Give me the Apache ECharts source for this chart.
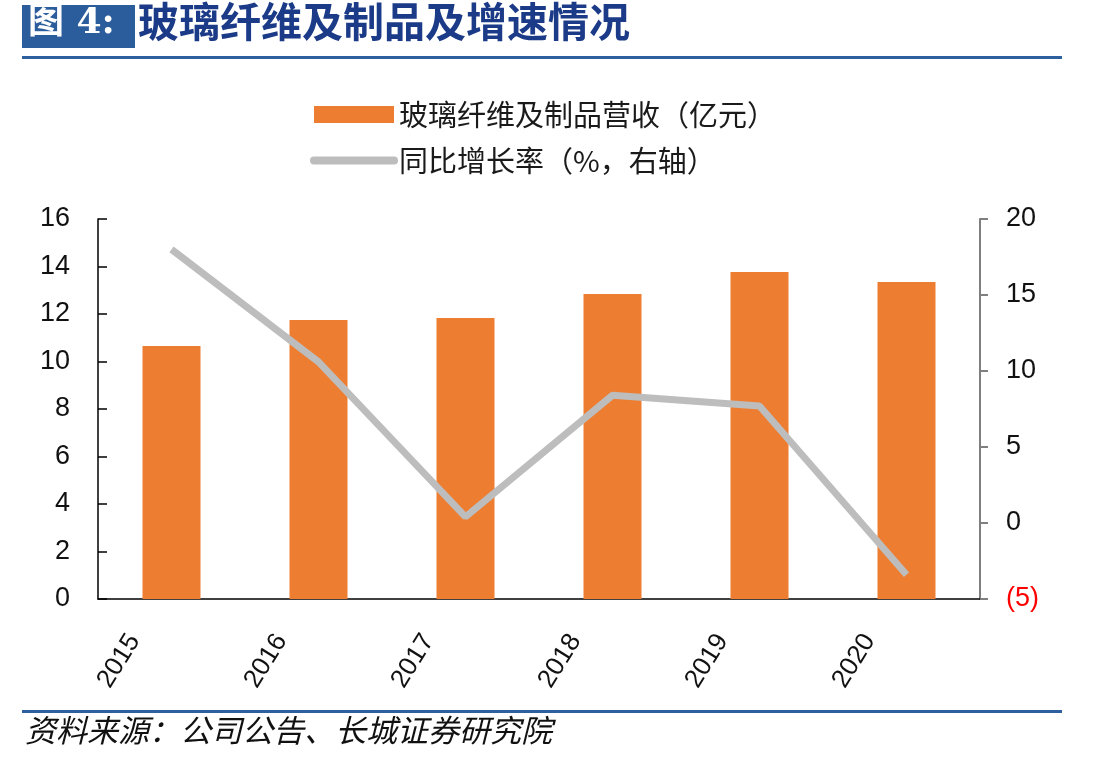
<!DOCTYPE html>
<html>
<head>
<meta charset="utf-8">
<script src="https://cdn.jsdelivr.net/npm/echarts@6/dist/echarts.min.js"></script>
<style>
    html, body { margin: 0; padding: 0; background: #ffffff; }
    #chart { width: 1105px; height: 764px; }
</style>
</head>
<body>
<div id="chart"></div>
<script>
// 年份
const years = ['2015', '2016', '2017', '2018', '2019', '2020']
// 玻璃纤维及制品营收（亿元）
const revenue = [10.65, 11.75, 11.83, 12.84, 13.77, 13.35]
// 同比增长率（%）
const growth = [18.0, 10.6, 0.4, 8.4, 7.7, -3.4]
// 左轴刻度
const leftTicks = [0, 2, 4, 6, 8, 10, 12, 14, 16]
// 右轴刻度
const rightTicks = [-5, 0, 5, 10, 15, 20]

const barName = '玻璃纤维及制品营收（亿元）'
const lineName = '同比增长率（%，右轴）'

const numFont = '"Liberation Sans", Arial, sans-serif'
const cjkFont = '"Noto Sans CJK SC", sans-serif'

const chart = echarts.init(document.getElementById('chart'))

const option = {
    backgroundColor: '#ffffff',
    animation: false,
    grid: {
        left: 98,
        right: 125,
        top: 219,
        bottom: 165
    },
    legend: {
        orient: 'vertical',
        left: 305,
        top: 95,
        itemWidth: 80,
        itemHeight: 17,
        itemGap: 17,
        textStyle: {
            fontFamily: cjkFont,
            fontSize: 29,
            color: '#1a1a1a'
        },
        data: [
            { name: barName, icon: 'rect' },
            // 图例里只要粗线，不要圆点
            { name: lineName, itemStyle: { opacity: 0 }, lineStyle: { width: 8, cap: 'round', color: '#bdbdbd' } }
        ]
    },
    // 标题、分隔线、资料来源
    graphic: [
        { type: 'rect', shape: { x: 22, y: 5, width: 113, height: 43 }, style: { fill: '#2b5c9c' } },
        { type: 'text', left: 28, top: 6, style: { text: '图 4:', fill: '#ffffff', font: 'bold 36px "DejaVu Serif", "Noto Sans CJK SC", serif' } },
        { type: 'text', left: 138, top: 1, style: { text: '玻璃纤维及制品及增速情况', fill: '#1b3a87', font: 'bold 41px "Noto Sans CJK SC", sans-serif' } },
        { type: 'rect', shape: { x: 22, y: 56, width: 1040, height: 3 }, style: { fill: '#2e5f9f' } },
        { type: 'rect', shape: { x: 22, y: 710, width: 1040, height: 3 }, style: { fill: '#2e5f9f' } },
        { type: 'text', left: 25, top: 715, style: { text: '资料来源：公司公告、长城证券研究院', fill: '#111111', font: 'italic 31px "Noto Sans CJK SC", sans-serif' } }
    ],
    xAxis: {
        type: 'category',
        data: years,
        axisLine: { lineStyle: { color: '#000000', width: 1.5 } },
        axisTick: { show: false },
        axisLabel: {
            rotate: 58,
            margin: -22,
            padding: [0, 70, 0, 0],
            fontFamily: numFont,
            fontSize: 26,
            color: '#111111'
        }
    },
    yAxis: [{
        type: 'value',
        min: leftTicks[0],
        max: leftTicks[leftTicks.length - 1],
        interval: 2,
        axisLine: { show: true, lineStyle: { color: '#000000', width: 1.5 } },
        axisTick: { show: true, inside: true, length: 9, lineStyle: { color: '#000000', width: 1.5 } },
        splitLine: { show: false },
        axisLabel: {
            margin: 28,
            fontFamily: numFont,
            fontSize: 27,
            color: '#111111'
        }
    }, {
        type: 'value',
        position: 'right',
        min: rightTicks[0],
        max: rightTicks[rightTicks.length - 1],
        interval: 5,
        axisLine: { show: true, lineStyle: { color: '#7f7f7f', width: 2 } },
        axisTick: { show: true, length: 8, lineStyle: { color: '#7f7f7f', width: 2 } },
        splitLine: { show: false },
        axisLabel: {
            margin: 26,
            fontFamily: numFont,
            fontSize: 27,
            formatter: (v) => v < 0 ? '{neg|(' + Math.abs(v) + ')}' : String(v),
            color: '#111111',
            rich: {
                neg: { color: '#ff0000', fontFamily: numFont, fontSize: 27 }
            }
        }
    }],
    series: [{
        name: barName,
        type: 'bar',
        yAxisIndex: 0,
        barWidth: 58,
        itemStyle: { color: '#ed7d31' },
        data: revenue
    }, {
        name: lineName,
        type: 'line',
        yAxisIndex: 1,
        symbol: 'none',
        lineStyle: { color: '#bdbdbd', width: 7 },
        itemStyle: { color: '#bdbdbd' },
        z: 3,
        data: growth
    }]
}

chart.setOption(option)
</script>
</body>
</html>
